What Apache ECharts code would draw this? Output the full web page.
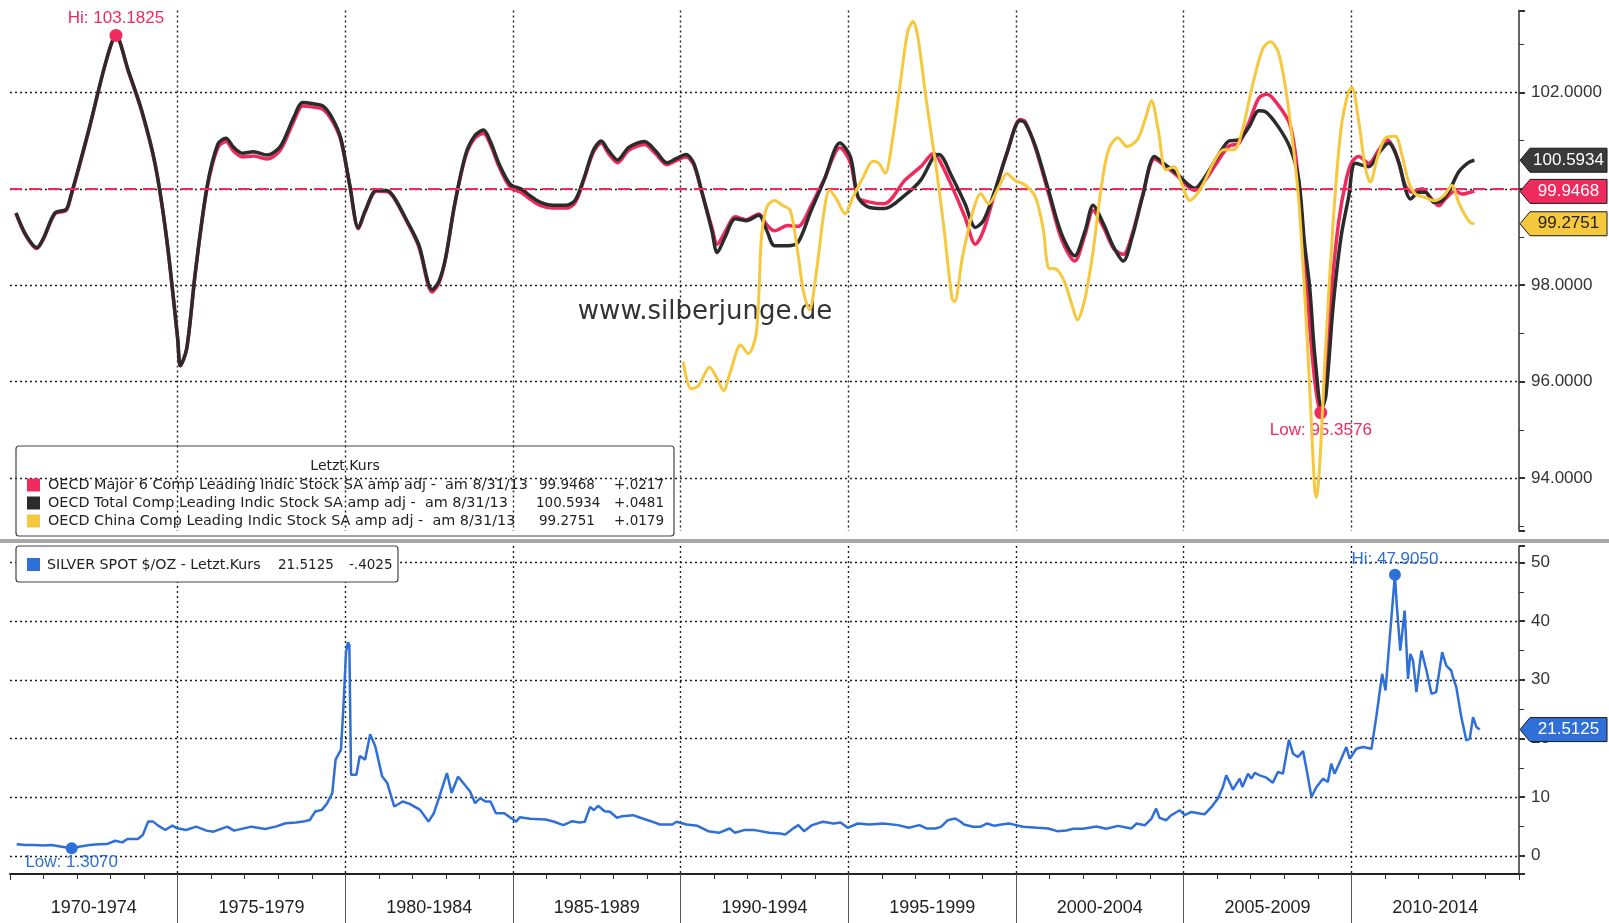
<!DOCTYPE html>
<html><head><meta charset="utf-8">
<script src="https://cdn.jsdelivr.net/npm/echarts@6/dist/echarts.min.js"></script>
<style>html,body{margin:0;padding:0;background:#fff}#c{width:1609px;height:923px}</style>
</head><body><div id="c"></div>
<script>
// ---------------- DATA ----------------
const periodLabels = ['1970-1974','1975-1979','1980-1984','1985-1989','1990-1994','1995-1999','2000-2004','2005-2009','2010-2014'];
const periodStarts = [1970, 1975, 1980, 1985, 1990, 1995, 2000, 2005, 2010];

// OECD Major 6 Comp Leading Indic (pink) [year, value]
const major6 = [
[1970.18,99.48],[1970.47,99.03],[1970.80,98.76],[1971.0,98.96],[1971.34,99.48],[1971.67,99.55],[1971.80,99.80],[1972.34,101.18],[1972.87,102.66],[1973.16,103.1825],[1973.53,102.43],[1973.93,101.60],[1974.33,100.49],[1974.67,98.96],[1975.0,96.88],[1975.08,96.33],[1975.27,96.67],[1975.53,98.27],[1975.87,99.98],[1976.2,100.86],[1976.44,100.98],[1976.67,100.78],[1976.93,100.66],[1977.26,100.68],[1977.66,100.62],[1978.06,100.80],[1978.46,101.40],[1978.73,101.72],[1979.0,101.70],[1979.33,101.65],[1979.6,101.42],[1979.86,101.02],[1980.13,100.07],[1980.39,99.17],[1980.59,99.52],[1980.93,99.95],[1981.26,99.94],[1981.46,99.80],[1981.79,99.38],[1982.19,98.80],[1982.59,97.86],[1982.79,98.04],[1982.99,98.55],[1983.26,99.66],[1983.59,100.68],[1983.86,101.05],[1984.12,101.15],[1984.32,100.93],[1984.59,100.45],[1984.92,100.03],[1985.26,99.92],[1985.52,99.78],[1985.79,99.66],[1986.19,99.60],[1986.59,99.60],[1986.86,99.72],[1987.12,100.20],[1987.39,100.75],[1987.63,100.95],[1987.85,100.73],[1988.12,100.54],[1988.45,100.80],[1988.92,100.92],[1989.25,100.73],[1989.59,100.50],[1989.85,100.58],[1990.16,100.66],[1990.39,100.50],[1990.62,99.95],[1990.93,99.20],[1991.09,98.85],[1991.32,99.10],[1991.63,99.42],[1991.95,99.36],[1992.33,99.48],[1992.57,99.25],[1992.80,99.13],[1993.19,99.24],[1993.50,99.22],[1993.89,99.65],[1994.28,100.20],[1994.75,100.85],[1995.06,100.55],[1995.29,99.82],[1995.60,99.73],[1996.07,99.69],[1996.69,100.18],[1997.16,100.46],[1997.55,100.74],[1997.75,100.55],[1998.09,100.05],[1998.48,99.41],[1998.79,98.85],[1999.03,99.13],[1999.34,99.85],[1999.73,100.74],[2000.12,101.44],[2000.27,101.40],[2000.58,100.85],[2000.97,99.90],[2001.36,98.95],[2001.75,98.50],[2002.06,99.05],[2002.30,99.55],[2002.61,99.20],[2002.92,98.75],[2003.20,98.64],[2003.46,99.05],[2003.77,99.85],[2004.13,100.62],[2004.40,100.50],[2004.79,100.28],[2005.10,100.06],[2005.33,99.97],[2005.64,100.18],[2005.95,100.50],[2006.34,100.88],[2006.65,100.95],[2006.96,101.40],[2007.24,101.88],[2007.49,101.96],[2007.73,101.82],[2008.13,101.40],[2008.28,100.98],[2008.45,100.0],[2008.62,98.5],[2008.80,96.8],[2008.95,95.8],[2009.09,95.3576],[2009.22,95.9],[2009.40,97.8],[2009.62,99.3],[2009.85,100.2],[2010.02,100.56],[2010.22,100.67],[2010.52,100.53],[2010.82,100.81],[2011.06,101.02],[2011.31,100.77],[2011.61,100.07],[2011.81,99.93],[2012.11,100.0],[2012.31,99.86],[2012.61,99.65],[2012.80,99.79],[2013.10,99.96],[2013.30,99.89],[2013.55,99.93],[2013.67,99.9468]
];

// OECD Total Comp Leading Indic (black)
const totalComp = [
[1970.18,99.50],[1970.47,99.05],[1970.80,98.78],[1971.0,98.98],[1971.34,99.50],[1971.67,99.57],[1971.80,99.82],[1972.34,101.2],[1972.87,102.66],[1973.16,103.17],[1973.53,102.45],[1973.93,101.62],[1974.33,100.51],[1974.67,98.98],[1975.0,96.9],[1975.08,96.33],[1975.27,96.69],[1975.53,98.29],[1975.87,100.02],[1976.2,100.93],[1976.44,101.05],[1976.67,100.86],[1976.93,100.74],[1977.26,100.77],[1977.66,100.70],[1978.06,100.88],[1978.46,101.48],[1978.73,101.79],[1979.0,101.77],[1979.33,101.72],[1979.6,101.48],[1979.86,101.06],[1980.13,100.09],[1980.39,99.19],[1980.59,99.54],[1980.93,99.97],[1981.26,99.96],[1981.46,99.82],[1981.79,99.40],[1982.19,98.84],[1982.59,97.91],[1982.79,98.08],[1982.99,98.57],[1983.26,99.68],[1983.59,100.72],[1983.86,101.10],[1984.12,101.22],[1984.32,100.99],[1984.59,100.51],[1984.92,100.09],[1985.26,99.99],[1985.52,99.85],[1985.79,99.73],[1986.19,99.66],[1986.59,99.66],[1986.86,99.77],[1987.12,100.23],[1987.39,100.79],[1987.63,100.99],[1987.85,100.79],[1988.12,100.60],[1988.45,100.86],[1988.92,100.98],[1989.25,100.79],[1989.59,100.54],[1989.85,100.62],[1990.16,100.71],[1990.39,100.53],[1990.62,99.97],[1990.93,99.13],[1991.09,98.68],[1991.32,98.99],[1991.63,99.38],[1991.95,99.34],[1992.33,99.45],[1992.57,99.13],[1992.80,98.82],[1993.19,98.82],[1993.50,98.89],[1993.89,99.55],[1994.28,100.18],[1994.75,100.95],[1995.06,100.67],[1995.29,99.83],[1995.60,99.62],[1996.07,99.59],[1996.69,99.87],[1997.16,100.18],[1997.55,100.67],[1997.70,100.71],[1998.09,100.25],[1998.48,99.69],[1998.79,99.20],[1999.03,99.34],[1999.34,99.90],[1999.73,100.74],[2000.12,101.41],[2000.27,101.37],[2000.58,100.88],[2000.97,99.97],[2001.36,99.06],[2001.75,98.61],[2002.06,99.13],[2002.30,99.66],[2002.61,99.27],[2002.92,98.78],[2003.20,98.50],[2003.46,98.99],[2003.77,99.83],[2004.13,100.67],[2004.40,100.53],[2004.79,100.32],[2005.10,100.11],[2005.33,100.01],[2005.64,100.25],[2005.95,100.60],[2006.34,100.99],[2006.65,101.02],[2006.96,101.30],[2007.24,101.62],[2007.44,101.60],[2007.83,101.28],[2008.18,100.84],[2008.43,100.2],[2008.60,98.9],[2008.76,97.94],[2008.91,96.55],[2009.12,95.45],[2009.24,95.7],[2009.46,97.59],[2009.69,98.99],[2009.92,99.83],[2010.12,100.53],[2010.52,100.46],[2010.82,100.74],[2011.11,100.95],[2011.41,100.56],[2011.61,100.0],[2011.76,99.79],[2012.01,99.93],[2012.21,99.93],[2012.46,99.72],[2012.70,99.75],[2012.95,100.0],[2013.20,100.35],[2013.50,100.55],[2013.67,100.5934]
];

// OECD China Comp Leading Indic (yellow)
const china = [
[1990.08,96.41],[1990.31,95.85],[1990.54,95.92],[1990.86,96.30],[1991.09,96.06],[1991.28,95.81],[1991.48,96.20],[1991.79,96.76],[1992.02,96.58],[1992.26,97.03],[1992.41,99.0],[1992.57,99.62],[1992.80,99.76],[1993.03,99.66],[1993.27,99.55],[1993.50,98.64],[1993.66,97.87],[1993.84,97.49],[1994.05,98.29],[1994.28,99.55],[1994.44,99.97],[1994.67,99.76],[1994.90,99.48],[1995.14,99.83],[1995.45,100.25],[1995.73,100.57],[1995.91,100.53],[1996.10,100.32],[1996.30,100.95],[1996.54,102.14],[1996.77,103.26],[1996.93,103.47],[1997.08,103.12],[1997.32,101.86],[1997.63,100.39],[1997.86,99.13],[1998.09,97.73],[1998.17,97.66],[1998.40,98.57],[1998.72,99.55],[1998.95,99.90],[1999.18,99.69],[1999.49,100.04],[1999.73,100.32],[1999.96,100.18],[2000.27,100.08],[2000.58,99.83],[2000.82,99.13],[2000.97,98.36],[2001.21,98.33],[2001.44,98.08],[2001.67,97.59],[2001.83,97.28],[2002.06,97.73],[2002.30,98.71],[2002.53,99.97],[2002.76,100.81],[2003.04,101.06],[2003.31,100.88],[2003.62,101.02],[2003.85,101.44],[2004.04,101.83],[2004.24,101.23],[2004.47,100.39],[2004.71,100.46],[2004.94,100.11],[2005.18,99.76],[2005.41,99.90],[2005.64,100.18],[2005.88,100.53],[2006.19,100.81],[2006.50,100.81],[2006.73,101.16],[2007.05,102.14],[2007.36,102.91],[2007.59,103.05],[2007.82,102.84],[2008.06,102.0],[2008.29,100.74],[2008.44,99.69],[2008.60,97.94],[2008.76,95.84],[2008.91,93.74],[2008.96,93.6],[2009.07,94.45],[2009.22,96.55],[2009.46,99.34],[2009.69,101.23],[2009.92,102.03],[2010.02,102.1],[2010.22,101.40],[2010.42,100.42],[2010.57,100.14],[2010.77,100.63],[2011.01,101.05],[2011.31,101.09],[2011.51,100.70],[2011.71,100.14],[2011.91,99.89],[2012.21,99.82],[2012.46,99.75],[2012.76,99.86],[2013.0,100.07],[2013.20,99.72],[2013.40,99.44],[2013.55,99.3],[2013.67,99.2751]
];

// SILVER SPOT $/OZ (blue)
const silver = [
[1970.20,1.95],[1970.45,1.85],[1970.73,1.83],[1971.0,1.75],[1971.24,1.83],[1971.5,1.6],[1971.84,1.307],[1972.1,1.6],[1972.37,1.83],[1972.65,1.95],[1972.89,2.0],[1973.14,2.57],[1973.35,2.29],[1973.50,2.86],[1973.81,2.86],[1973.96,3.54],[1974.12,5.83],[1974.27,5.83],[1974.42,5.14],[1974.63,4.4],[1974.84,5.14],[1974.99,4.69],[1975.25,4.4],[1975.55,4.97],[1975.86,4.29],[1976.07,4.11],[1976.48,4.97],[1976.68,4.29],[1977.2,4.97],[1977.61,4.57],[1977.92,4.97],[1978.22,5.54],[1978.53,5.66],[1978.74,5.83],[1978.94,6.11],[1979.10,7.54],[1979.30,7.83],[1979.46,8.97],[1979.61,10.69],[1979.71,16.4],[1979.87,18.1],[1979.95,26.1],[1980.02,34.7],[1980.08,36.4],[1980.12,35.9],[1980.17,13.8],[1980.33,13.8],[1980.43,17.0],[1980.59,16.4],[1980.74,20.7],[1980.89,18.7],[1981.10,13.5],[1981.25,12.4],[1981.46,8.4],[1981.71,9.26],[1981.92,8.86],[1982.23,7.83],[1982.48,5.83],[1982.64,7.26],[1982.79,9.83],[1983.03,14.1],[1983.17,10.7],[1983.36,13.5],[1983.56,12.1],[1983.72,10.97],[1983.87,8.97],[1984.02,9.83],[1984.18,9.26],[1984.33,9.26],[1984.49,7.26],[1984.74,7.26],[1984.95,6.4],[1985.10,5.83],[1985.2,6.57],[1985.51,6.3],[1985.97,6.2],[1986.23,5.8],[1986.5,5.23],[1986.77,5.9],[1986.98,5.68],[1987.14,5.8],[1987.30,8.35],[1987.41,7.78],[1987.54,8.52],[1987.73,7.6],[1987.89,7.5],[1988.1,6.48],[1988.26,6.76],[1988.58,6.93],[1988.8,6.48],[1989.11,5.9],[1989.38,5.34],[1989.75,5.34],[1989.88,5.8],[1990.18,5.34],[1990.5,5.11],[1990.82,4.2],[1991.14,3.92],[1991.46,4.66],[1991.62,3.92],[1991.89,4.38],[1992.21,4.38],[1992.64,3.92],[1992.96,3.8],[1993.12,3.64],[1993.38,4.77],[1993.51,5.23],[1993.68,4.2],[1993.92,5.23],[1994.24,5.8],[1994.56,5.51],[1994.77,5.68],[1994.98,4.77],[1995.28,5.51],[1995.62,5.34],[1996.05,5.51],[1996.48,5.23],[1996.8,4.77],[1997.12,5.23],[1997.33,4.66],[1997.6,4.66],[1997.76,4.94],[1997.97,6.08],[1998.19,6.36],[1998.35,5.8],[1998.45,5.34],[1998.72,4.94],[1998.93,4.94],[1999.14,5.51],[1999.36,5.11],[1999.57,5.34],[1999.79,5.51],[2000.0,5.23],[2000.21,4.94],[2000.64,4.77],[2000.96,4.66],[2001.23,4.2],[2001.5,4.3],[2001.71,4.6],[2002.0,4.6],[2002.40,5.0],[2002.69,4.6],[2003.04,5.1],[2003.44,4.65],[2003.59,5.5],[2003.84,5.2],[2004.04,6.35],[2004.18,8.05],[2004.28,6.46],[2004.48,6.07],[2004.63,6.92],[2004.88,7.77],[2005.03,6.92],[2005.23,7.48],[2005.48,7.2],[2005.63,7.09],[2005.83,8.33],[2006.02,9.75],[2006.17,11.73],[2006.27,13.72],[2006.47,11.28],[2006.67,13.15],[2006.75,11.73],[2006.92,14.0],[2007.02,13.15],[2007.12,14.12],[2007.27,13.72],[2007.47,13.32],[2007.66,12.47],[2007.81,14.29],[2007.96,14.0],[2008.14,19.78],[2008.26,17.4],[2008.41,16.84],[2008.56,17.86],[2008.68,14.29],[2008.81,10.03],[2008.96,11.73],[2009.16,13.15],[2009.30,12.59],[2009.40,15.7],[2009.50,14.0],[2009.70,16.55],[2009.85,18.54],[2009.95,16.55],[2010.15,18.25],[2010.35,18.54],[2010.60,18.25],[2010.75,23.92],[2010.92,31.0],[2011.02,28.17],[2011.14,36.7],[2011.30,47.905],[2011.36,42.35],[2011.46,34.98],[2011.59,41.78],[2011.69,30.16],[2011.76,34.41],[2011.84,33.28],[2011.94,27.89],[2012.09,34.98],[2012.24,31.58],[2012.39,27.61],[2012.53,27.89],[2012.71,34.69],[2012.83,32.43],[2012.98,31.58],[2013.03,30.44],[2013.13,28.74],[2013.28,23.64],[2013.43,19.67],[2013.53,19.95],[2013.63,23.64],[2013.73,21.94],[2013.83,21.5125]
];

const referenceLevel = 100;
const legendTitle = 'Letzt.Kurs';
const legendNames = [
  'OECD Major 6 Comp Leading Indic Stock SA amp adj -  am 8/31/13',
  'OECD Total Comp Leading Indic Stock SA amp adj -  am 8/31/13',
  'OECD China Comp Leading Indic Stock SA amp adj -  am 8/31/13'
];
const legendLast = ['99.9468', '100.5934', '99.2751'];
const legendChange = ['+.0217', '+.0481', '+.0179'];
const silverLegend = ['SILVER SPOT $/OZ - Letzt.Kurs', '21.5125', '-.4025'];
const watermark = 'www.silberjunge.de';

// ---------------- STYLE ----------------
const PINK = '#ef2a5c', BLACK = '#2b2b2b', YELLOW = '#f6c83e', BLUE = '#2f6fd8';
const FONT = "'Liberation Sans', Arial, sans-serif";
const LFONT = "'DejaVu Sans', sans-serif";
const GRIDC = '#1f1f1f';
const dotted = {color: GRIDC, type: [2, 3], width: 1.4};

const chart = echarts.init(document.getElementById('c'), null, {renderer: 'canvas'});

function topFmt(v) {
  const r = Math.round(v);
  if (Math.abs(v - r) > 1e-6 || r % 2 !== 0 || r === 100) return '';
  return v.toFixed(4);
}
function botFmt(v) {
  const r = Math.round(v);
  if (Math.abs(v - r) > 1e-6 || r % 10 !== 0 || r < 0) return '';
  return String(r);
}
const yAxisCommon = {
  type: 'value', position: 'right', scale: true,
  axisLine: {show: true, lineStyle: {color: '#333', width: 1.5}},
  axisTick: {show: true, length: 6, lineStyle: {color: '#333', width: 2}},
  minorTick: {show: true, splitNumber: 2, length: 5, lineStyle: {color: '#333', width: 1}},
  minorSplitLine: {show: false},
  splitLine: {show: true, showMinLine: false, showMaxLine: false, lineStyle: dotted}
};

const innerBoundaries = periodStarts.slice(1);
const periodMids = periodStarts.map(s => s + 2.5);

const option = {
  animation: false,
  backgroundColor: '#fff',
  grid: [
    {left: 10, right: 90, top: 10.5, height: 520.5},
    {left: 10, right: 90, top: 546, height: 328}
  ],
  xAxis: [
    {gridIndex: 0, type: 'value', min: 1970, max: 2015, interval: 5,
     axisLine: {show: false}, axisTick: {show: false}, axisLabel: {show: false},
     splitLine: {show: true, showMinLine: false, showMaxLine: false, lineStyle: dotted}},
    {gridIndex: 1, type: 'value', min: 1970, max: 2015, interval: 5,
     axisLine: {show: true, onZero: false, lineStyle: {color: '#222', width: 2}},
     axisTick: {show: true, length: 6, lineStyle: {color: '#333'}},
     minorTick: {show: true, splitNumber: 5, length: 5, lineStyle: {color: '#333'}},
     axisLabel: {show: false},
     splitLine: {show: true, showMinLine: false, showMaxLine: false, lineStyle: dotted}},
    {gridIndex: 1, type: 'value', min: 1970, max: 2015, position: 'bottom',
     axisLine: {show: false, onZero: false},
     axisTick: {show: true, customValues: innerBoundaries, length: 50, lineStyle: {color: '#555', width: 1}},
     axisLabel: {show: true, customValues: periodMids, margin: 25, fontSize: 18, color: '#222', fontFamily: FONT,
       formatter: v => periodLabels[periodMids.findIndex(m => Math.abs(m - v) < 0.01)] || ''},
     splitLine: {show: false}}
  ],
  yAxis: [
    Object.assign({}, yAxisCommon, {gridIndex: 0, min: 92.9, max: 103.7,
      axisLabel: {margin: 12, fontSize: 17, color: '#333', fontFamily: FONT, formatter: topFmt}}),
    Object.assign({}, yAxisCommon, {gridIndex: 1, min: -3.1, max: 52.8,
      axisLabel: {margin: 12, fontSize: 17, color: '#333', fontFamily: FONT, formatter: botFmt}})
  ],
  series: [
    {name: 'Major 6', type: 'line', xAxisIndex: 0, yAxisIndex: 0, data: major6,
     showSymbol: false, smooth: 0.3, z: 3,
     lineStyle: {color: PINK, width: 3.5}, itemStyle: {color: PINK},
     markLine: {silent: true, symbol: 'none', label: {show: false},
       lineStyle: {color: PINK, type: [12, 7], width: 2}, data: [{yAxis: referenceLevel}]},
     markPoint: {symbol: 'circle', symbolSize: 13, itemStyle: {color: PINK},
       data: [
        {type: 'max', valueDim: 'y', label: {show: true, position: 'top', distance: 2, color: PINK, fontSize: 17, fontFamily: FONT,
          formatter: p => 'Hi: ' + Number(p.value).toFixed(4)}},
        {type: 'min', valueDim: 'y', label: {show: true, position: 'bottom', distance: 3, color: PINK, fontSize: 17, fontFamily: FONT,
          formatter: p => 'Low: ' + Number(p.value).toFixed(4)}}
       ]}},
    {name: 'Total', type: 'line', xAxisIndex: 0, yAxisIndex: 0, data: totalComp,
     showSymbol: false, smooth: 0.3, z: 4,
     lineStyle: {color: BLACK, width: 3.5}},
    {name: 'China', type: 'line', xAxisIndex: 0, yAxisIndex: 0, data: china,
     showSymbol: false, smooth: 0.3, z: 5,
     lineStyle: {color: YELLOW, width: 3}},
    {name: 'Silver', type: 'line', xAxisIndex: 1, yAxisIndex: 1, data: silver,
     showSymbol: false, z: 4,
     lineStyle: {color: BLUE, width: 2.5}, itemStyle: {color: BLUE},
     markPoint: {symbol: 'circle', symbolSize: 12, itemStyle: {color: BLUE},
       data: [
        {type: 'max', valueDim: 'y', label: {show: true, position: 'top', distance: 1, color: BLUE, fontSize: 17, fontFamily: FONT,
          formatter: p => 'Hi: ' + Number(p.value).toFixed(4)}},
        {type: 'min', valueDim: 'y', label: {show: true, position: 'bottom', distance: 0, color: BLUE, fontSize: 17, fontFamily: FONT,
          formatter: p => 'Low: ' + Number(p.value).toFixed(4)}}
       ]}}
  ]
};
chart.setOption(option);

// ---------- graphic overlays positioned through the chart's scales ----------
const g = [];
const txt = (x, y, text, font, fill, align) => ({type: 'text', z: 61, x: x, y: y,
  style: {text: text, fill: fill || '#222', font: font, align: align || 'left', textAlign: align || 'left', verticalAlign: 'middle', textVerticalAlign: 'middle'}});

// watermark (under the series)
const wm = txt(705, 312, watermark, "26px 'DejaVu Sans', sans-serif", '#333', 'center');
wm.z = 1;
g.push(wm);

// separator between panels
g.push({type: 'rect', z: 50, shape: {x: 0, y: 539, width: 1609, height: 4}, style: {fill: '#a8a8a8'}});

// top legend box
g.push({type: 'rect', z: 60, shape: {x: 16, y: 446, width: 658, height: 90, r: 3}, style: {fill: 'none', stroke: '#444', lineWidth: 1.2}});
g.push(txt(345, 466, legendTitle, '14px ' + LFONT, '#222', 'center'));
const legendColors = [PINK, BLACK, YELLOW];
const rowY = [485, 503, 521];
const lastX = [539, 536, 539];
legendNames.forEach((nm, i) => {
  g.push({type: 'rect', z: 61, shape: {x: 27, y: rowY[i] - 6.5, width: 13, height: 13}, style: {fill: legendColors[i]}});
  g.push(txt(48, rowY[i], nm, '14.4px ' + LFONT));
  g.push(txt(lastX[i], rowY[i], legendLast[i], '13.5px ' + LFONT));
  g.push(txt(664, rowY[i], legendChange[i], '13.5px ' + LFONT, '#222', 'right'));
});
// bottom legend box
g.push({type: 'rect', z: 60, shape: {x: 16, y: 546, width: 382, height: 36, r: 3}, style: {fill: '#fff', stroke: '#444', lineWidth: 1.2}});
g.push({type: 'rect', z: 61, shape: {x: 27, y: 558, width: 13, height: 13}, style: {fill: BLUE}});
const silverLegendX = [47, 278, 349];
silverLegend.forEach((t, i) => g.push(txt(silverLegendX[i], 565, t, (i === 0 ? '14.2px ' : '13.5px ') + LFONT)));

// right-axis value tags
function tag(gridIndex, value, fill, textColor, label) {
  const p = chart.convertToPixel({gridIndex: gridIndex}, [2015, value]);
  const x0 = p[0] + 1, yc = p[1], h = 12;
  g.push({type: 'polygon', z: 70,
    shape: {points: [[x0, yc], [x0 + 10, yc - h], [1607, yc - h], [1607, yc + h], [x0 + 10, yc + h]]},
    style: {fill: fill, stroke: '#1a1a1a', lineWidth: 1}});
  const t = txt((x0 + 10 + 1607) / 2, yc, label, '17px ' + FONT, textColor, 'center');
  t.z = 71;
  g.push(t);
}
const lastOf = a => a[a.length - 1][1];
tag(0, lastOf(totalComp), '#3a3a3a', '#ffffff', lastOf(totalComp).toFixed(4));
tag(0, lastOf(major6), PINK, '#ffffff', lastOf(major6).toFixed(4));
tag(0, lastOf(china), YELLOW, '#222222', lastOf(china).toFixed(4));
tag(1, lastOf(silver), BLUE, '#ffffff', lastOf(silver).toFixed(4));

chart.setOption({graphic: g});
</script>
</body></html>
